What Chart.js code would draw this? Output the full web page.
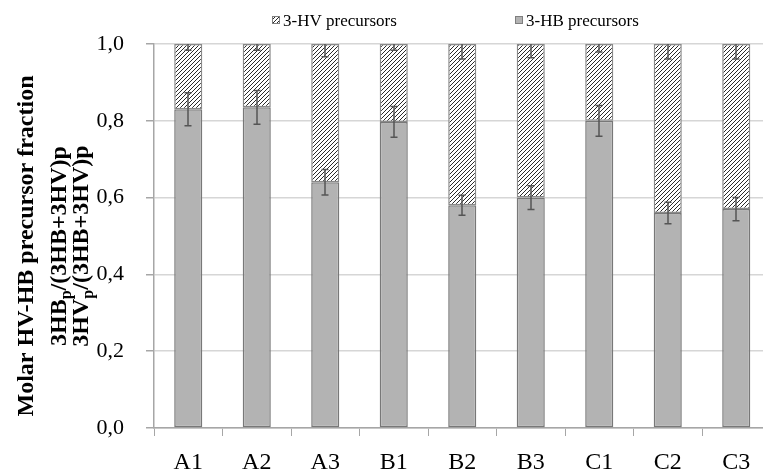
<!DOCTYPE html>
<html>
<head>
<meta charset="utf-8">
<script src="https://cdn.jsdelivr.net/npm/chart.js@4/dist/chart.umd.min.js"></script>
<style>
  html, body { margin: 0; padding: 0; background: #fff; overflow: hidden; }
  #wrap { width: 780px; height: 473px; position: relative; }
</style>
</head>
<body>
<div id="wrap"><canvas id="fractionChart" width="780" height="473"></canvas></div>
<script>
const samples = ['A1', 'A2', 'A3', 'B1', 'B2', 'B3', 'C1', 'C2', 'C3'];
const hbFraction = [0.83, 0.835, 0.64, 0.797, 0.58, 0.60, 0.80, 0.56, 0.57];
const hvFraction = [0.17, 0.165, 0.36, 0.203, 0.42, 0.40, 0.20, 0.44, 0.43];
const hbError = [0.043, 0.044, 0.033, 0.040, 0.026, 0.031, 0.040, 0.028, 0.030];
const hvError = [0.016, 0.016, 0.033, 0.016, 0.039, 0.036, 0.021, 0.039, 0.039];
const yTicks = [0, 0.2, 0.4, 0.6, 0.8, 1.0];

const serif = '"Liberation Serif", "Times New Roman", serif';

function makeHatch() {
  const c = document.createElement('canvas');
  c.width = 4;
  c.height = 4;
  const g = c.getContext('2d');
  g.fillStyle = '#ffffff';
  g.fillRect(0, 0, 4, 4);
  g.strokeStyle = '#2a2a2a';
  g.lineWidth = 1;
  g.beginPath();
  g.moveTo(0, 4); g.lineTo(4, 0);
  g.moveTo(-1, 1); g.lineTo(1, -1);
  g.moveTo(3, 5); g.lineTo(5, 3);
  g.stroke();
  return g.createPattern(c, 'repeat');
}
const hatch = makeHatch();

// error bars: HB around its bar top, HV around the stack top
const errorBars = {
  id: 'errorBars',
  afterDatasetsDraw(chart) {
    const { ctx, chartArea, scales } = chart;
    const x = scales.x, y = scales.y;
    ctx.save();
    ctx.beginPath();
    ctx.rect(chartArea.left, chartArea.top, chartArea.width, chartArea.height);
    ctx.clip();
    ctx.strokeStyle = '#555555';
    ctx.lineWidth = 1.5;
    samples.forEach((s, i) => {
      const cx = Math.round(x.getPixelForValue(i));
      const tops = [
        [hbFraction[i], hbError[i]],
        [hbFraction[i] + hvFraction[i], hvError[i]]
      ];
      tops.forEach(([v, e]) => {
        const y1 = y.getPixelForValue(v + e);
        const y2 = y.getPixelForValue(v - e);
        ctx.beginPath();
        ctx.moveTo(cx, y1); ctx.lineTo(cx, y2);
        ctx.moveTo(cx - 3.5, y1); ctx.lineTo(cx + 3.5, y1);
        ctx.moveTo(cx - 3.5, y2); ctx.lineTo(cx + 3.5, y2);
        ctx.stroke();
      });
    });
    ctx.restore();
  }
};

function drawRuns(ctx, runs, size, cx, baseline) {
  const widths = runs.map(r => {
    ctx.font = 'bold ' + (r.sub ? Math.round(size * 0.65) : size) + 'px ' + serif;
    return ctx.measureText(r.t).width;
  });
  let pos = cx - widths.reduce((a, b) => a + b, 0) / 2;
  runs.forEach((r, k) => {
    ctx.font = 'bold ' + (r.sub ? Math.round(size * 0.65) : size) + 'px ' + serif;
    ctx.fillText(r.t, pos, baseline + (r.sub ? size * 0.22 : 0));
    pos += widths[k];
  });
}

const yTitle = {
  id: 'yTitle',
  afterDraw(chart) {
    const ctx = chart.ctx;
    ctx.save();
    ctx.fillStyle = '#000';
    ctx.textAlign = 'left';
    ctx.textBaseline = 'alphabetic';
    ctx.translate(0, 246);
    ctx.rotate(-Math.PI / 2);
    drawRuns(ctx, [{ t: 'Molar HV-HB precursor fraction' }], 24, 0, 33);
    drawRuns(ctx, [{ t: '3HB' }, { t: 'p', sub: true }, { t: '/(3HB+3HV)p' }], 24, 0, 66);
    drawRuns(ctx, [{ t: '3HV' }, { t: 'p', sub: true }, { t: '/(3HB+3HV)p' }], 24, 0, 88);
    ctx.restore();
  }
};

const topLegend = {
  id: 'topLegend',
  afterDraw(chart) {
    const ctx = chart.ctx;
    const items = [
      { ds: chart.data.datasets[1], x: 272 },
      { ds: chart.data.datasets[0], x: 515 }
    ];
    ctx.save();
    ctx.font = '17px ' + serif;
    ctx.textBaseline = 'alphabetic';
    items.forEach(it => {
      ctx.fillStyle = it.ds.backgroundColor;
      ctx.fillRect(it.x, 16, 8, 8);
      ctx.strokeStyle = '#7f7f7f';
      ctx.lineWidth = 1;
      ctx.strokeRect(it.x + 0.5, 16.5, 7, 7);
      ctx.fillStyle = '#000';
      ctx.fillText(it.ds.label, it.x + 11, 26);
    });
    ctx.restore();
  }
};

const ctx = document.getElementById('fractionChart').getContext('2d');
const fractionChart = new Chart(ctx, {
  type: 'bar',
  data: {
    labels: samples,
    datasets: [
      {
        label: '3-HB precursors',
        data: hbFraction,
        backgroundColor: '#b3b3b3',
        borderColor: '#787878',
        borderWidth: 1.5,
        borderSkipped: false
      },
      {
        label: '3-HV precursors',
        data: hvFraction,
        backgroundColor: hatch,
        borderColor: '#8a8a8a',
        borderWidth: 1.5,
        borderSkipped: false
      }
    ]
  },
  options: {
    responsive: false,
    animation: false,
    layout: { padding: { top: 44, right: 9.5, left: 0, bottom: 0 } },
    datasets: { bar: { categoryPercentage: 1, barPercentage: 0.41 } },
    plugins: {
      legend: { display: false },
      tooltip: { enabled: false }
    },
    scales: {
      x: {
        stacked: true,
        afterFit(scale) { scale.height = 45; },
        grid: { offset: true, drawOnChartArea: false, tickLength: 8, tickColor: '#a6a6a6' },
        border: { color: '#a6a6a6', width: 1.5 },
        ticks: { color: '#000', padding: 12, font: { family: serif, size: 24 } }
      },
      y: {
        stacked: true,
        min: 0,
        max: 1,
        afterFit(scale) { scale.width = 154; },
        afterBuildTicks(scale) { scale.ticks = yTicks.map(v => ({ value: v })); },
        grid: { color: '#d6d6d6', lineWidth: 1.5, tickLength: 8, tickColor: '#a6a6a6' },
        border: { color: '#a6a6a6', width: 1.5 },
        ticks: {
          color: '#000',
          padding: 22,
          font: { family: serif, size: 22 },
          callback: v => v.toFixed(1).replace('.', ',')
        }
      }
    }
  },
  plugins: [errorBars, yTitle, topLegend]
});
</script>
</body>
</html>
